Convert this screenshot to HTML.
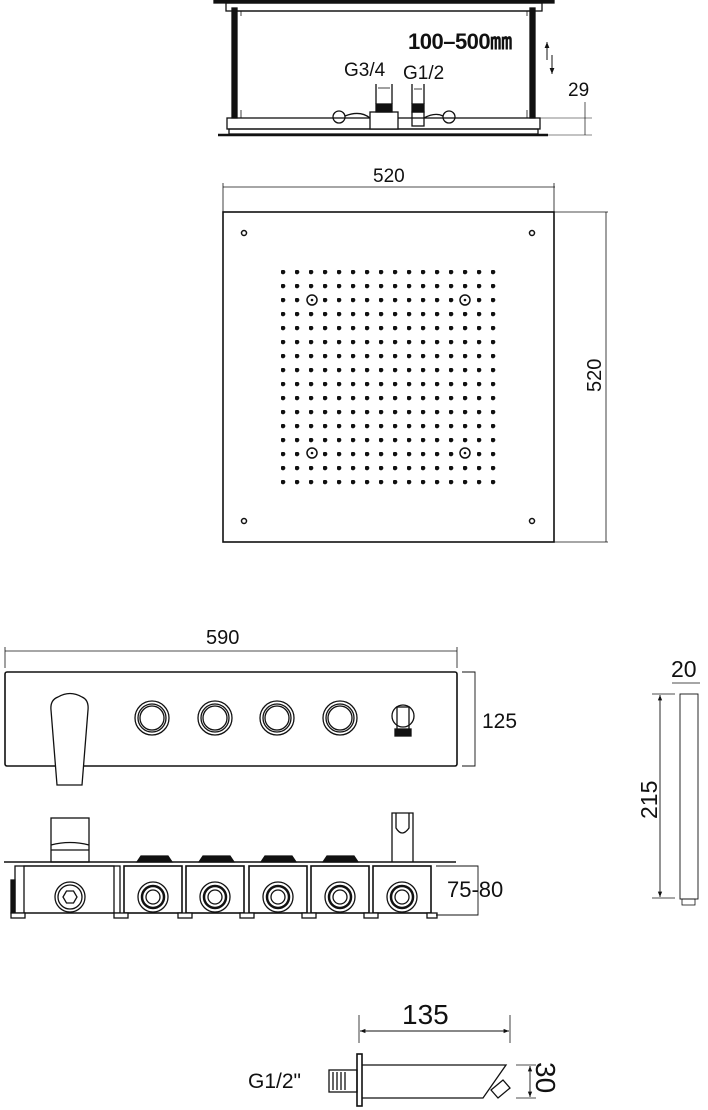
<!DOCTYPE html>
<html><head><meta charset="utf-8"><style>html,body{margin:0;padding:0;background:#fff}svg{display:block}text{font-family:"Liberation Sans",sans-serif;fill:#111}</style></head><body>
<svg width="708" height="1110" viewBox="0 0 708 1110" xmlns="http://www.w3.org/2000/svg" fill="none" stroke="#111" stroke-width="1.3">
<defs><marker id="a" viewBox="0 0 10 10" refX="10" refY="5" markerWidth="8" markerHeight="6" orient="auto-start-reverse"><path d="M0,1L10,5L0,9z" fill="#111" stroke="none"/></marker>
<pattern id="dp" x="281" y="270" width="14" height="14" patternUnits="userSpaceOnUse"><circle cx="2" cy="2" r="1.7" fill="#111"/></pattern></defs>
<!-- top side view -->
<rect x="214" y="0" width="340" height="3" fill="#111"/>
<rect x="226" y="3" width="316" height="8"/>
<rect x="232" y="8" width="5" height="110" fill="#111"/>
<rect x="530" y="8" width="5" height="110" fill="#111"/>
<line x1="237" y1="11" x2="530" y2="11"/>
<path d="M241,11 V16 M527,11 V16 M241,110 V118 M527,110 V118" stroke-width="0.8"/>
<rect x="227" y="118" width="313" height="11"/>
<rect x="229" y="129" width="309" height="5"/>
<line x1="218" y1="135" x2="548" y2="135" stroke-width="2.5"/>
<rect x="370" y="112" width="28" height="17" fill="#fff"/>
<rect x="376" y="104" width="16" height="8" fill="#111"/>
<line x1="376" y1="84" x2="376" y2="104"/><line x1="392" y1="84" x2="392" y2="104"/>
<rect x="412" y="104" width="12" height="8" fill="#111"/>
<rect x="412" y="112" width="12" height="14"/>
<line x1="412" y1="84" x2="412" y2="104"/><line x1="424" y1="84" x2="424" y2="104"/>
<circle cx="339" cy="117" r="6"/><circle cx="449" cy="117" r="6"/>
<path d="M345,116 Q360,110 370,118 M424,118 Q435,112 443,116"/>
<line x1="378" y1="88" x2="390" y2="88" stroke-width="0.8"/><line x1="414" y1="89" x2="422" y2="89" stroke-width="0.8"/>
<text x="408" y="49" font-size="22" font-weight="bold" stroke="none" letter-spacing="-0.5">100–500㎜</text>
<text x="344" y="76" font-size="19" stroke="none">G3/4</text>
<text x="403" y="79" font-size="19" stroke="none">G1/2</text>
<line x1="547" y1="42" x2="547" y2="60" marker-start="url(#a)" stroke-width="1"/>
<line x1="552" y1="55" x2="552" y2="74" marker-end="url(#a)" stroke-width="1"/>
<text x="568" y="96" font-size="19" stroke="none">29</text>
<line x1="585" y1="102" x2="585" y2="135" stroke-width="0.7"/>
<line x1="540" y1="118" x2="592" y2="118" stroke-width="0.6"/><line x1="548" y1="135" x2="592" y2="135" stroke-width="0.6"/>
<!-- plate -->
<text x="373" y="182" font-size="19" stroke="none">520</text>
<line x1="223" y1="187" x2="555" y2="187" stroke-width="0.8"/>
<line x1="223" y1="183" x2="223" y2="212" stroke-width="0.8"/><line x1="554" y1="183" x2="554" y2="212" stroke-width="0.8"/>
<rect x="223" y="212" width="331" height="330" stroke-width="1.6"/>
<line x1="554" y1="212" x2="608" y2="212" stroke-width="0.8"/><line x1="554" y1="542" x2="608" y2="542" stroke-width="0.8"/>
<line x1="606" y1="212" x2="606" y2="542" stroke-width="0.8"/>
<text transform="translate(601,392) rotate(-90)" font-size="20" stroke="none">520</text>
<g stroke-width="1.5"><circle cx="244" cy="233" r="2.5"/><circle cx="532" cy="233" r="2.5"/><circle cx="244" cy="521" r="2.5"/><circle cx="532" cy="521" r="2.5"/></g>
<rect x="281" y="270" width="224" height="224" fill="url(#dp)" stroke="none"/>
<g fill="#fff" stroke="#111" stroke-width="1.5"><circle cx="312" cy="300" r="5"/><circle cx="465" cy="300" r="5"/><circle cx="312" cy="453" r="5"/><circle cx="465" cy="453" r="5"/></g>
<g fill="#111" stroke="none"><circle cx="312" cy="300" r="1.3"/><circle cx="465" cy="300" r="1.3"/><circle cx="312" cy="453" r="1.3"/><circle cx="465" cy="453" r="1.3"/></g>
<!-- control panel -->
<text x="206" y="644" font-size="20" stroke="none">590</text>
<line x1="5" y1="651" x2="457" y2="651" stroke-width="0.8"/>
<line x1="5" y1="647" x2="5" y2="668" stroke-width="0.8"/><line x1="457" y1="647" x2="457" y2="668" stroke-width="0.8"/>
<rect x="5" y="672" width="452" height="94" rx="2" stroke-width="1.6"/>
<path d="M462,672 H475 V766 H462" stroke-width="0.9"/>
<text x="482" y="728" font-size="21" stroke="none">125</text>
<path d="M57,785 L51,710 Q50,700 58,697 Q70,690 82,697 Q89,700 88,710 L82,785 Z" fill="#fff"/>
<g><circle cx="152" cy="718" r="17"/><circle cx="152" cy="718" r="14"/><circle cx="152" cy="718" r="12"/>
<circle cx="215" cy="718" r="17"/><circle cx="215" cy="718" r="14"/><circle cx="215" cy="718" r="12"/>
<circle cx="277" cy="718" r="17"/><circle cx="277" cy="718" r="14"/><circle cx="277" cy="718" r="12"/>
<circle cx="340" cy="718" r="17"/><circle cx="340" cy="718" r="14"/><circle cx="340" cy="718" r="12"/></g>
<circle cx="403" cy="716" r="11"/><rect x="397" y="707" width="12" height="23"/><rect x="395" y="729" width="16" height="7" fill="#111"/>
<!-- valve body -->
<rect x="51" y="818" width="38" height="44"/><path d="M51,845 Q70,840 89,845" /><line x1="51" y1="850" x2="89" y2="850"/>
<path d="M392,862 V813 H413 V862 M396,813 V828 Q402,838 409,828 V813"/>
<line x1="4" y1="862" x2="456" y2="862" stroke-width="1.5"/>
<g fill="#111"><path d="M137,862 L141,856 H168 L172,862Z"/><path d="M199,862 L203,856 H230 L234,862Z"/><path d="M261,862 L265,856 H292 L296,862Z"/><path d="M323,862 L327,856 H354 L358,862Z"/></g>
<rect x="15" y="866" width="105" height="47"/><rect x="24" y="866" width="90" height="47"/>
<rect x="11" y="880" width="4" height="33" fill="#111"/>
<rect x="124" y="866" width="58" height="47" stroke-width="1.6"/><rect x="186" y="866" width="58" height="47" stroke-width="1.6"/><rect x="249" y="866" width="58" height="47" stroke-width="1.6"/><rect x="311" y="866" width="58" height="47" stroke-width="1.6"/><rect x="373" y="866" width="58" height="47" stroke-width="1.6"/>
<circle cx="70" cy="897" r="15"/><circle cx="70" cy="897" r="12"/><path d="M63,897 L66.5,891 H73.5 L77,897 L73.5,903 H66.5Z"/>
<g><circle cx="153" cy="897" r="15"/><circle cx="153" cy="897" r="11" stroke-width="2.5"/><circle cx="153" cy="897" r="7"/>
<circle cx="215" cy="897" r="15"/><circle cx="215" cy="897" r="11" stroke-width="2.5"/><circle cx="215" cy="897" r="7"/>
<circle cx="278" cy="897" r="15"/><circle cx="278" cy="897" r="11" stroke-width="2.5"/><circle cx="278" cy="897" r="7"/>
<circle cx="340" cy="897" r="15"/><circle cx="340" cy="897" r="11" stroke-width="2.5"/><circle cx="340" cy="897" r="7"/>
<circle cx="402" cy="897" r="15"/><circle cx="402" cy="897" r="11" stroke-width="2.5"/><circle cx="402" cy="897" r="7"/></g>
<g fill="#fff"><rect x="11" y="913" width="14" height="5"/><rect x="114" y="913" width="14" height="5"/><rect x="178" y="913" width="14" height="5"/><rect x="240" y="913" width="14" height="5"/><rect x="302" y="913" width="14" height="5"/><rect x="364" y="913" width="14" height="5"/><rect x="427" y="913" width="10" height="5"/></g>
<path d="M436,866 H478 V915 H436" stroke-width="0.9"/>
<text x="447" y="897" font-size="22" stroke="none">75-80</text>
<!-- hand shower -->
<text x="671" y="677" font-size="23" stroke="none">20</text>
<line x1="672" y1="683" x2="700" y2="683" stroke-width="0.7"/>
<rect x="680" y="694" width="18" height="205" stroke-width="0.9"/>
<rect x="682" y="899" width="13" height="6" stroke-width="0.8"/>
<line x1="652" y1="694" x2="675" y2="694" stroke-width="0.7"/><line x1="652" y1="898" x2="675" y2="898" stroke-width="0.7"/>
<line x1="660" y1="695" x2="660" y2="897" stroke-width="0.9" marker-start="url(#a)" marker-end="url(#a)"/>
<text transform="translate(657,819) rotate(-90)" font-size="23" stroke="none">215</text>
<!-- spout -->
<text x="402" y="1024" font-size="28" stroke="none">135</text>
<line x1="359" y1="1015" x2="359" y2="1043" stroke-width="0.8"/><line x1="510" y1="1015" x2="510" y2="1043" stroke-width="0.8"/>
<line x1="360" y1="1031" x2="509" y2="1031" stroke-width="0.9" marker-start="url(#a)" marker-end="url(#a)"/>
<rect x="357" y="1054" width="5" height="52" fill="#fff" stroke-width="1.6"/>
<rect x="329" y="1070" width="28" height="22"/><path d="M333,1072 V1090 M337,1072 V1090 M341,1072 V1090 M345,1072 V1090"/>
<path d="M362,1065 H506 L483,1098 H362"/>
<path d="M491,1090 L503,1080 L510,1088 L498,1098Z"/>
<text x="248" y="1088" font-size="21" stroke="none">G1/2"</text>
<line x1="516" y1="1065" x2="536" y2="1065" stroke-width="0.8"/><line x1="516" y1="1098" x2="536" y2="1098" stroke-width="0.8"/>
<line x1="530" y1="1066" x2="530" y2="1097" stroke-width="0.9" marker-start="url(#a)" marker-end="url(#a)"/>
<text transform="translate(536,1062) rotate(90)" font-size="28" stroke="none">30</text>
</svg>
</body></html>
